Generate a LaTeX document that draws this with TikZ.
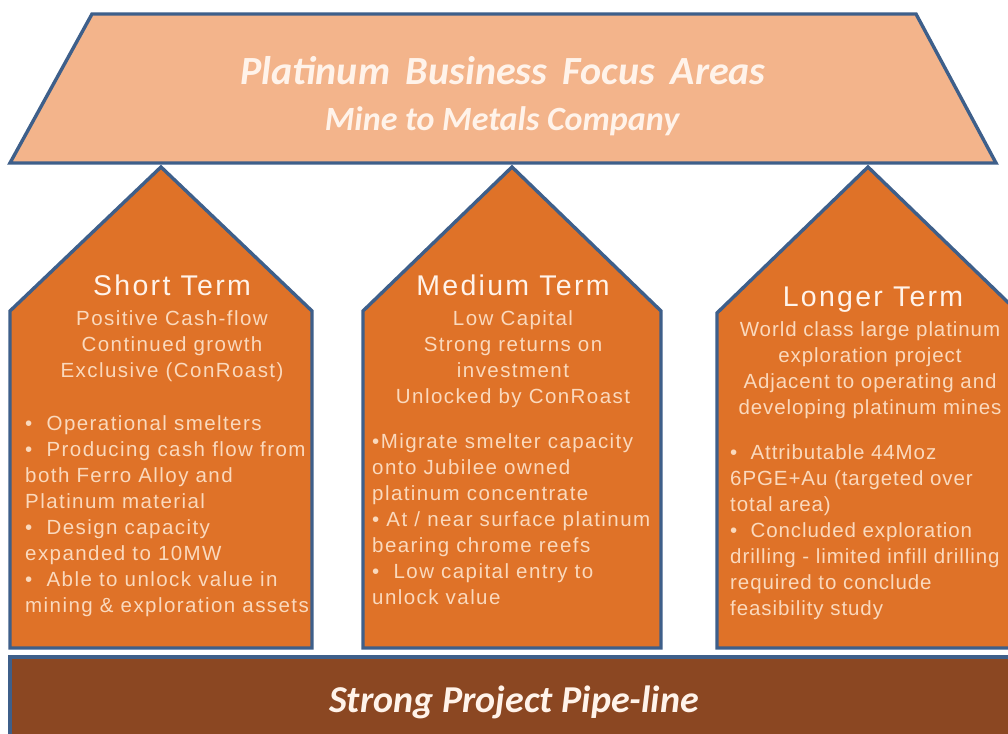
\documentclass[tikz,border=0pt]{standalone}
\usepackage{fontspec}
\setmainfont{Liberation Sans}
\newfontfamily\bodyfont[LetterSpace=7]{Liberation Sans}
\newfontfamily\tightbodyfont[LetterSpace=4.5]{Liberation Sans}
\newfontfamily\headfont[LetterSpace=8]{Liberation Sans}
\newfontfamily\bannerfont{Carlito}

\definecolor{roofpeach}{HTML}{F3B48B}
\definecolor{edgeblue}{HTML}{3E5F8A}
\definecolor{pillarorange}{HTML}{DF7228}
\definecolor{barbrown}{HTML}{8B4722}
\definecolor{bodytext}{HTML}{FAD9BD}
\definecolor{headtext}{HTML}{FFF3EA}

\tikzset{
  panel/.style={draw=edgeblue, line width=3.4pt, line join=miter},
  roof/.style={panel, fill=roofpeach},
  pillar/.style={panel, fill=pillarorange},
  base/.style={panel, fill=barbrown},
  pillarhead/.style={inner sep=0pt, text=headtext, font=\headfont\fontsize{28.5}{32}\selectfont},
  pillarsub/.style={inner sep=0pt, anchor=north, align=center, text=bodytext,
    font=\bodyfont\fontsize{20.5}{26}\selectfont},
  pillarlist/.style={inner sep=0pt, anchor=north west, align=left, text=bodytext,
    font=\bodyfont\fontsize{20.5}{26}\selectfont},
  bannertext/.style={inner sep=0pt, anchor=base, text=headtext},
}

\begin{document}
\begin{tikzpicture}[x=1pt, y=-1pt]
  \useasboundingbox (0,0) rectangle (1008,733);
  \clip (0,0) rectangle (1008,733);
  \fill[white] (0,0) rectangle (1008,733);

  % three pillars
  \draw[pillar] (10,648) -- (10,311) -- (161,167) -- (312,311) -- (312,648) -- cycle;
  \draw[pillar] (363,648) -- (363,311) -- (512,167) -- (661,311) -- (661,648) -- cycle;
  \draw[pillar] (717,648) -- (717,313) -- (868,167) -- (1019,313) -- (1019,648) -- cycle;

  % roof
  \draw[roof] (92,14) -- (916,14) -- (996,163) -- (10,163) -- cycle;
  \node[bannertext, font=\bannerfont\bfseries\itshape\fontsize{40}{46}\selectfont]
    (rooftitle) at (503,85) {Platinum\, Business\, Focus\, Areas};
  \node[bannertext, font=\bannerfont\bfseries\itshape\fontsize{34}{40}\selectfont]
    (roofsub) at (502,131) {Mine to Metals Company};

  % foundation bar
  \draw[base] (10,657) rectangle (1030,760);
  \node[bannertext, font=\bannerfont\bfseries\itshape\fontsize{38}{44}\selectfont]
    (pipeline) at (514,712) {Strong Project Pipe-line};

  % short term
  \node[pillarhead, anchor=base] (shorthead) at (172,295) {Short Term};
  \node[pillarsub] (shortsub) at (172,310)
    {Positive Cash-flow\\Continued growth\\Exclusive (ConRoast)};
  \node[pillarlist] (shortlist) at (25,415)
    {•\ \ Operational smelters\\
     •\ \ Producing cash flow from\\
     both Ferro Alloy and\\
     Platinum material\\
     •\ \ Design capacity\\
     expanded to 10MW\\
     •\ \ Able to unlock value in\\
     mining \& exploration assets};

  % medium term
  \node[pillarhead, anchor=base] (mediumhead) at (513,295) {Medium Term};
  \node[pillarsub] (mediumsub) at (513,310)
    {Low Capital\\Strong returns on\\investment\\Unlocked by ConRoast};
  \node[pillarlist] (mediumlist) at (372,433)
    {•Migrate smelter capacity\\
     onto Jubilee owned\\
     platinum concentrate\\
     • At / near surface platinum\\
     bearing chrome reefs\\
     •\ \ Low capital entry to\\
     unlock value};

  % longer term
  \node[pillarhead, anchor=base] (longhead) at (873,306) {Longer Term};
  \node[pillarsub, font=\tightbodyfont\fontsize{20.5}{26}\selectfont] (longsub) at (870,321)
    {World class large platinum\\exploration project\\Adjacent to operating and\\developing platinum mines};
  \node[pillarlist, font=\tightbodyfont\fontsize{20.5}{26}\selectfont] (longlist) at (730,444)
    {•\ \ Attributable 44Moz\\
     6PGE+Au (targeted over\\
     total area)\\
     •\ \ Concluded exploration\\
     drilling - limited infill drilling\\
     required to conclude\\
     feasibility study};
\end{tikzpicture}
\end{document}
